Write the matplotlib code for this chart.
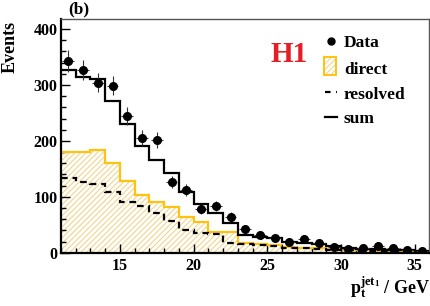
import numpy as np
import matplotlib
matplotlib.use('Agg')
import matplotlib.pyplot as plt
from matplotlib.lines import Line2D
from matplotlib.patches import Rectangle

# ---- data -------------------------------------------------------------
bin_edges = [11, 12, 13, 14, 15, 16, 17, 18, 19, 20, 21, 22, 23, 24, 25,
             26, 27, 28, 29, 30, 31, 32, 33, 34, 35, 36]
data_x = [11.5, 12.5, 13.5, 14.5, 15.5, 16.5, 17.5, 18.5, 19.5, 20.5, 21.5,
          22.5, 23.5, 24.5, 25.5, 26.5, 27.5, 28.5, 29.5, 30.5, 31.5, 32.5,
          33.5, 34.5, 35.5]
data_y = [343, 327, 304, 299, 244, 206, 201, 126, 112, 79, 83, 64, 43, 32,
          27, 20, 24, 17, 9.6, 6.6, 7.9, 12, 8, 5, 2.5]
data_err = [19, 18, 17, 17, 16, 14, 14, 11, 11, 9, 9, 8, 7, 6, 5, 4.5, 5, 4,
            3, 2.6, 2.8, 3.5, 2.8, 2.2, 1.6]
direct = [181, 180, 184, 160, 129, 103, 91, 82, 64.5, 55, 37.6, 37.6, 17, 16,
          13, 11, 9, 8, 6, 4.5, 4, 3.5, 3, 2.5, 2]
resolved = [133, 127, 123, 108, 91, 83.5, 70.5, 57, 40, 35, 34, 18, 15, 14,
            12, 9, 8, 7, 5, 4, 3, 3, 2.5, 2, 1.5]
total = [327, 315, 311, 271, 230, 190, 166, 142, 109, 88, 71.5, 52.6, 31.6,
         28, 25.7, 19.7, 17, 16, 12, 8, 7, 6, 5, 4, 3]
x_ticks = [15, 20, 25, 30, 35]
y_ticks = [0, 100, 200, 300, 400]
legend_labels = ['Data', 'direct', 'resolved', 'sum']

# ---- style ------------------------------------------------------------
plt.rcParams['font.family'] = ['Liberation Serif', 'DejaVu Serif']
plt.rcParams['font.weight'] = 'bold'
plt.rcParams['mathtext.fontset'] = 'custom'
plt.rcParams['mathtext.rm'] = 'Liberation Serif:bold'
plt.rcParams['mathtext.it'] = 'Liberation Serif:bold'
plt.rcParams['mathtext.bf'] = 'Liberation Serif:bold'
plt.rcParams['hatch.linewidth'] = 0.8

W, H = 431, 306
fig = plt.figure(figsize=(W / 100, H / 100), dpi=100)
ax = fig.add_axes([61 / W, 53.3 / H, (429.5 - 61) / W, (252.7 - 19) / H])

gold = '#ffc20e'
hatch_c = '#f2d58c'

# direct: hatched fill + gold outline
ax.stairs(direct, bin_edges, fill=True, facecolor='none', edgecolor=hatch_c,
          hatch='//////', linewidth=0, zorder=1)
ax.stairs(direct, bin_edges, color=gold, linewidth=1.6, baseline=None, zorder=2)
# resolved
ax.stairs(resolved, bin_edges, color='black', linewidth=1.6, baseline=None,
          linestyle=(0, (3, 2.2)), zorder=3)
# sum
ax.stairs(total, bin_edges, color='black', linewidth=1.6, baseline=None, zorder=4)
# data
ax.errorbar(data_x, data_y, yerr=data_err, xerr=0.4, fmt='o', color='black',
            markersize=5.5, ecolor='#333333', elinewidth=0.8, capsize=0, zorder=5)

ax.set_xlim(11, 36)
ax.set_ylim(0, 418)
ax.set_xticks(x_ticks)
ax.set_yticks(y_ticks)
ax.set_xticks(np.arange(11, 37, 1), minor=True)
ax.set_yticks(np.arange(0, 420, 20), minor=True)
ax.tick_params(which='both', direction='in', top=False, right=False, width=1)
ax.tick_params(which='major', length=6.5)
ax.tick_params(which='minor', length=3.5)
ax.tick_params(axis='y', pad=2.5, labelsize=11.5)
ax.tick_params(axis='x', pad=3.5, labelsize=11.5)
for lab in ax.get_xticklabels() + ax.get_yticklabels():
    lab.set_fontweight('bold')

for s in ['left', 'bottom']:
    ax.spines[s].set_linewidth(1.6)
    ax.spines[s].set_color('black')
for s in ['top', 'right']:
    ax.spines[s].set_linewidth(1.0)
    ax.spines[s].set_color('#555555')

# labels
fig.text(2 / W, 1 - 21 / H, 'Events', rotation=90, ha='left', va='top',
         fontsize=13, fontweight='bold')
fig.text(430 / W, 6 / H, r'$\mathbf{p_{t}^{jet_{1}}}$ / GeV', ha='right',
         va='bottom', fontsize=13, fontweight='bold')
fig.text(68 / W, 1 - 1 / H, '(b)', ha='left', va='top', fontsize=12.5,
         fontweight='bold')
fig.text(271 / W, 1 - 62 / H, 'H1', ha='left', va='baseline', fontsize=21,
         fontweight='bold', color='#e31e24')

# manual legend
tx = 344 / W
baselines = [47, 73.5, 99, 123]
for lab, b in zip(legend_labels, baselines):
    fig.text(tx, 1 - b / H, lab, ha='left', va='baseline', fontsize=12.5,
             fontweight='bold')
fig.add_artist(Line2D([331 / W], [1 - 40.5 / H], marker='o', markersize=5,
                      color='black', linestyle='none',
                      transform=fig.transFigure))
fig.add_artist(Rectangle((324.5 / W, 1 - 75 / H), 12 / W, 18 / H,
                         transform=fig.transFigure, facecolor='none',
                         edgecolor=hatch_c, hatch='//////', linewidth=0))
fig.add_artist(Rectangle((324.5 / W, 1 - 75 / H), 12 / W, 18 / H,
                         transform=fig.transFigure, facecolor='none',
                         edgecolor=gold, linewidth=1.4))
fig.add_artist(Line2D([325 / W, 337.5 / W], [1 - 92 / H, 1 - 92 / H],
                      color='black', linewidth=1.6, linestyle=(0, (2.5, 2.5)),
                      transform=fig.transFigure))
fig.add_artist(Line2D([325 / W, 337.5 / W], [1 - 117 / H, 1 - 117 / H],
                      color='black', linewidth=1.6,
                      transform=fig.transFigure))

fig.savefig('out.png', dpi=100)
